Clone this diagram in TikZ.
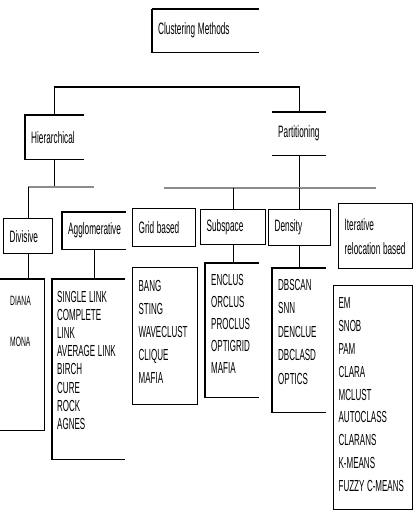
\documentclass[tikz,border=0pt]{standalone}
\usepackage{fontspec}
\setmainfont[FakeStretch=0.5]{Liberation Sans}
\usepackage{tikz}

\begin{document}
\begin{tikzpicture}[x=1pt, y=-1pt,
    head/.style={anchor=north west, align=left, inner xsep=6pt, inner ysep=0pt,
                 font=\fontsize{16.5}{24}\selectfont, execute at begin node={\spaceskip=2.6pt\relax}},
    methods/.style={anchor=north west, align=left, inner ysep=0pt,
                    execute at begin node={\spaceskip=2.6pt\relax}},
    frame/.style={draw, line width=1.3pt},
    edge/.style={line width=1.3pt},
    link/.style={line width=0.8pt},
    branch/.style={draw=black!45, line width=2.2pt}]

    \useasboundingbox (0,0) rectangle (419,511);

    % --- top level ---
    \node[head, text width=95pt, minimum height=43pt] (cm) at (152,9) {Clustering Methods};
    \draw[line width=2.2pt] (cm.north west) -- (cm.north east);
    \draw[edge] (cm.north west) -- (cm.south west) -- (cm.south east);

    % --- two families ---
    \node[head, text width=47pt, minimum height=44pt] (hier) at (25,115) {Hierarchical};
    \node[head, text width=42pt, minimum height=43pt] (part) at (272,112) {Partitioning};
    \draw[edge] (hier.north east) -- (hier.north west) -- (hier.south west) -- (hier.south east);
    \draw[edge] (part.north west) -- (part.north east);
    \draw[edge] (part.south west) -- (part.south east);

    \coordinate (top) at (174,87);
    \draw[edge] (hier.north) |- (top) -| (part.north);

    % --- sub classes ---
    \node[head, frame, text width=37pt, minimum height=35pt] (div) at (3,218) {Divisive};
    \node[head, text width=52pt, minimum height=37pt] (agg) at (62,212) {Agglomerative};
    \draw[edge] (agg.north east) -- (agg.north west) -- (agg.south west) -- (agg.south east);
    \node[head, frame, text width=51pt, minimum height=38pt] (grid) at (132,208) {Grid based};
    \node[head, frame, text width=53pt, minimum height=35pt] (sub) at (200,209) {Subspace};
    \node[head, frame, text width=50pt, minimum height=36pt] (dens) at (268,209) {Density};
    \node[head, frame, text width=62pt, minimum height=65pt] (iter) at (338,203) {Iterative\\relocation based};

    % --- branches ---
    \coordinate (hsplit) at (54.5,187);
    \draw[link] (hier.south) -- (hier.south |- hsplit);
    \draw[branch] (div.north |- hsplit) -- (agg.north |- hsplit);
    \draw[link] (div.north |- hsplit) -- (div.north);

    \coordinate (psplit) at (299,188);
    \draw[link] (part.south) -- (part.south |- psplit);
    \draw[branch] (grid.north |- psplit) -- (iter.north |- psplit);
    \draw[link] (sub.north |- psplit) -- (sub.north);
    \draw[link] (dens.north |- psplit) -- (dens.north);

    % --- method lists ---
    \node[methods, font=\fontsize{13.5}{41}\selectfont, inner xsep=10pt, text width=24pt,
          text height=25.9pt, text depth=125.1pt] (diana) at (0,279) {DIANA\\MONA};
    \draw[edge] (diana.north west) -- (diana.north east) -- (diana.south east) -- (diana.south west);

    \node[methods, font=\fontsize{16}{18.2}\selectfont, inner xsep=5pt, text width=63pt,
          text height=22.8pt, text depth=157.2pt] (agglist) at (52,279)
          {SINGLE LINK\\COMPLETE\\LINK\\AVERAGE LINK\\BIRCH\\CURE\\ROCK\\AGNES};
    \draw[edge] (agglist.north east) -- (agglist.north west) -- (agglist.south west) -- (agglist.south east);

    \node[methods, frame, font=\fontsize{16}{23}\selectfont, inner xsep=6pt, text width=53pt,
          text height=23.8pt, text depth=113.2pt] (banglist) at (132,267)
          {BANG\\STING\\WAVECLUST\\CLIQUE\\MAFIA};

    \node[methods, font=\fontsize{16}{22}\selectfont, inner xsep=6pt, text width=42pt,
          text height=21.8pt, text depth=112.2pt] (sublist) at (205,263)
          {ENCLUS\\ORCLUS\\PROCLUS\\OPTIGRID\\MAFIA};
    \draw[edge] (sublist.north east) -- (sublist.north west) -- (sublist.south west) -- (sublist.south east);

    \node[methods, font=\fontsize{16}{23.5}\selectfont, inner xsep=6pt, text width=42pt,
          text height=21.8pt, text depth=122.2pt] (denslist) at (272,268)
          {DBSCAN\\SNN\\DENCLUE\\DBCLASD\\OPTICS};
    \draw[edge] (denslist.north east) -- (denslist.north west) -- (denslist.south west) -- (denslist.south east);

    \node[methods, frame, font=\fontsize{16}{22.9}\selectfont, inner xsep=5pt, text width=69pt,
          text height=22.8pt, text depth=201.2pt] (emlist) at (333,285)
          {EM\\SNOB\\PAM\\CLARA\\MCLUST\\AUTOCLASS\\CLARANS\\K-MEANS\\FUZZY C-MEANS};

    % --- links to lists ---
    \draw[link] (div.south) -- (div.south |- diana.north);
    \draw[link] (agg.south) -- (agg.south |- agglist.north);
    \draw[link] (sub.south) -- (sub.south |- sublist.north);
    \draw[link] (dens.south) -- (dens.south |- denslist.north);

\end{tikzpicture}
\end{document}
